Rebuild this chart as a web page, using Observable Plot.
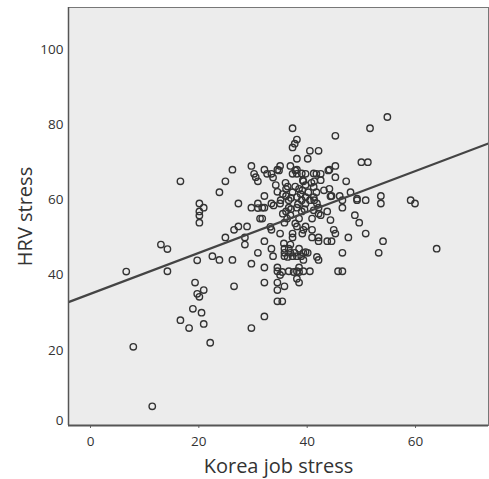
<!DOCTYPE html>
<html>
<head>
<meta charset="utf-8">
<script src="https://cdn.jsdelivr.net/npm/d3@7"></script>
<script src="https://cdn.jsdelivr.net/npm/@observablehq/plot@0.6"></script>
<style>
  html, body { margin: 0; padding: 0; background: #fff; }
  #chart svg { display: block; }
</style>
</head>
<body>
<div id="chart"></div>
<script>
// Korea job stress (x) values
const jobStress = [
  6.6, 7.9, 11.4, 13.0, 14.2, 14.2, 16.6, 16.6, 18.2, 18.9,
  19.3, 19.7, 20.1, 20.5, 20.9, 20.9, 22.1, 19.7, 20.1, 20.1,
  20.1, 20.1, 20.9, 22.5, 23.8, 23.8, 24.9, 24.9, 26.2, 26.2,
  26.5, 26.5, 27.3, 27.3, 28.5, 28.5, 28.9, 29.7, 29.7, 29.7,
  29.7, 30.2, 30.5, 30.9, 30.9, 30.9, 31.3, 31.7, 31.7, 32.1,
  32.1, 32.1, 32.1, 32.1, 32.1, 32.1, 32.6, 33.4, 33.4, 33.4,
  33.4, 33.7, 33.7, 34.2, 34.5, 34.5, 34.5, 34.5, 34.5, 34.5,
  35.0, 35.0, 35.0, 35.0, 35.4, 35.8, 35.8, 35.8, 35.8, 35.8,
  36.1, 36.1, 36.1, 36.6, 36.6, 36.6, 36.9, 36.9, 36.9, 36.9,
  37.3, 37.3, 37.7, 38.1, 38.1, 38.1, 38.1, 37.3, 37.3, 37.3,
  37.3, 37.3, 37.7, 38.1, 38.1, 38.1, 38.1, 38.1, 38.1, 38.5,
  38.5, 38.5, 38.5, 38.5, 39.0, 39.0, 39.3, 39.3, 39.3, 39.3,
  39.3, 39.7, 39.7, 39.7, 40.1, 40.1, 40.5, 40.5, 40.5, 40.9,
  40.9, 40.9, 41.3, 41.3, 41.7, 41.7, 42.1, 42.1, 42.1, 42.1,
  42.1, 42.5, 42.5, 43.7, 43.7, 44.1, 44.1, 44.5, 44.5, 44.9,
  45.2, 45.2, 45.2, 45.2, 45.7, 46.0, 46.5, 46.5, 46.5, 46.5,
  47.2, 47.6, 48.0, 48.8, 49.2, 49.6, 50.0, 50.8, 50.8, 51.2,
  51.6, 53.2, 53.6, 53.6, 54.0, 54.8, 59.1, 59.9, 63.9,
  34.8, 37.8, 39.2, 41.2, 43.9, 30.9, 33.2, 35.5, 37.8, 39.1,
  42.1, 44.3, 49.2, 35.7, 36.6, 39.7, 41.8, 36.4, 34.5, 35.1,
  33.8, 39.1, 39.7, 39.7, 41.2, 41.8, 41.2, 41.2, 42.5, 43.1,
  35.4, 37.5, 38.5, 38.9, 36.4, 44.3, 35.5, 36.0, 37.0, 37.8,
  38.8, 38.3, 37.0, 36.3, 39.5, 40.2, 40.8, 39.0
];
// HRV stress (y) values
const hrvStress = [
  40.9, 20.9, 5.1, 48.1, 46.9, 41.0, 64.9, 28.0, 25.9, 31.0,
  38.0, 35.0, 34.2, 30.0, 36.0, 27.0, 22.0, 43.9, 59.0, 56.9,
  55.8, 53.9, 57.9, 45.0, 44.0, 62.0, 64.9, 50.0, 68.0, 44.0,
  37.0, 52.0, 59.0, 52.9, 50.0, 48.1, 52.9, 25.9, 43.0, 57.9,
  69.0, 66.9, 66.0, 64.9, 59.0, 45.9, 55.0, 55.0, 57.9, 68.0,
  61.0, 57.9, 49.0, 42.0, 38.0, 29.0, 66.9, 66.9, 59.0, 52.0,
  47.0, 45.0, 65.9, 63.9, 68.0, 42.0, 41.0, 38.0, 36.0, 33.0,
  69.0, 59.0, 51.0, 40.0, 33.0, 37.0, 47.0, 45.9, 45.0, 53.9,
  56.9, 61.0, 62.9, 59.9, 57.9, 41.0, 69.0, 55.9, 48.1, 45.9,
  79.0, 73.9, 74.9, 76.0, 70.9, 68.0, 66.9, 66.9, 62.0, 51.0,
  50.0, 45.0, 45.9, 60.7, 57.9, 52.9, 45.0, 41.0, 39.0, 38.0,
  42.0, 47.0, 55.0, 62.9, 59.9, 56.9, 64.9, 52.0, 45.9, 44.0,
  41.0, 66.9, 63.9, 52.9, 70.9, 45.9, 73.0, 59.9, 41.0, 52.0,
  50.0, 55.0, 64.9, 59.9, 66.9, 62.0, 73.0, 57.9, 50.0, 49.0,
  44.0, 66.9, 55.9, 56.9, 49.0, 68.0, 62.9, 49.0, 61.0, 52.0,
  77.0, 69.0, 66.0, 51.0, 41.0, 61.0, 59.9, 57.9, 45.9, 41.0,
  64.9, 50.0, 62.0, 55.9, 59.9, 53.9, 70.0, 59.9, 51.0, 70.0,
  79.0, 45.9, 61.0, 59.0, 49.0, 82.0, 59.9, 59.0, 47.0,
  67.8, 67.8, 65.2, 67.0, 67.8, 57.8, 52.8, 56.3, 53.7, 51.0,
  56.3, 54.6, 60.3, 48.4, 47.0, 46.1, 44.8, 63.5, 62.1, 59.9,
  58.5, 62.5, 60.7, 59.0, 60.7, 59.0, 57.2, 63.4, 65.2, 62.5,
  40.8, 40.8, 40.8, 45.0, 44.8, 60.9, 61.5, 64.5, 60.5, 63.5,
  61.5, 58.8, 57.5, 55.0, 57.5, 62.0, 64.5, 67.0
];
// Fitted regression line
const fitIntercept = 35.0;
const fitSlope = 0.544;
const fitXs = [-4.06, 73.5];

const xDomain = [-4.06, 73.47];
const yDomain = [0, 111.1];
const xTicks = [0, 20, 40, 60];
const yTicks = [20, 40, 60, 80, 100];
const xTitle = "Korea job stress";
const yTitle = "HRV stress";

const points = jobStress.map((x, i) => ({x, y: hrvStress[i]}));
const fitLine = fitXs.map(x => ({x, y: fitIntercept + fitSlope * x}));

const chart = Plot.plot({
  width: 489,
  height: 479,
  marginLeft: 68,
  marginRight: 1,
  marginTop: 7,
  marginBottom: 54,
  style: {fontFamily: "'Open Sans', 'Noto Sans', sans-serif", fontSize: "13px", color: "#333", background: "#fff"},
  x: {domain: xDomain},
  y: {domain: yDomain},
  marks: [
    Plot.frame({fill: "#ececec", stroke: "#777", strokeWidth: 1}),
    Plot.axisX(xTicks, {tickSize: 3, tickPadding: 8, stroke: "#666", fontSize: 13.5, fill: "#333", label: null}),
    Plot.axisY(yTicks, {tickSize: 0, tickPadding: 5, fontSize: 13.5, fill: "#333", label: null}),
    Plot.axisY([0], {tickSize: 0, tickPadding: 5, fontSize: 13.5, fill: "#333", dy: -5, label: null}),
    Plot.text([xTitle], {frameAnchor: "bottom", dy: 41, fontSize: 20, fill: "#333", lineAnchor: "middle", textAnchor: "middle"}),
    Plot.text([yTitle], {frameAnchor: "left", dx: -43, rotate: -90, fontSize: 20, fill: "#333", lineAnchor: "middle", textAnchor: "middle"}),
    Plot.dot(points, {x: "x", y: "y", r: 3.2, stroke: "#333", strokeWidth: 1.4, fill: "none"}),
    Plot.line(fitLine, {x: "x", y: "y", stroke: "#444", strokeWidth: 2.2, clip: true}),
    Plot.ruleX([xDomain[0]], {stroke: "#555", strokeWidth: 1.5}),
    Plot.ruleY([yDomain[0]], {stroke: "#555", strokeWidth: 2})
  ]
});
document.getElementById("chart").appendChild(chart);
</script>
</body>
</html>
